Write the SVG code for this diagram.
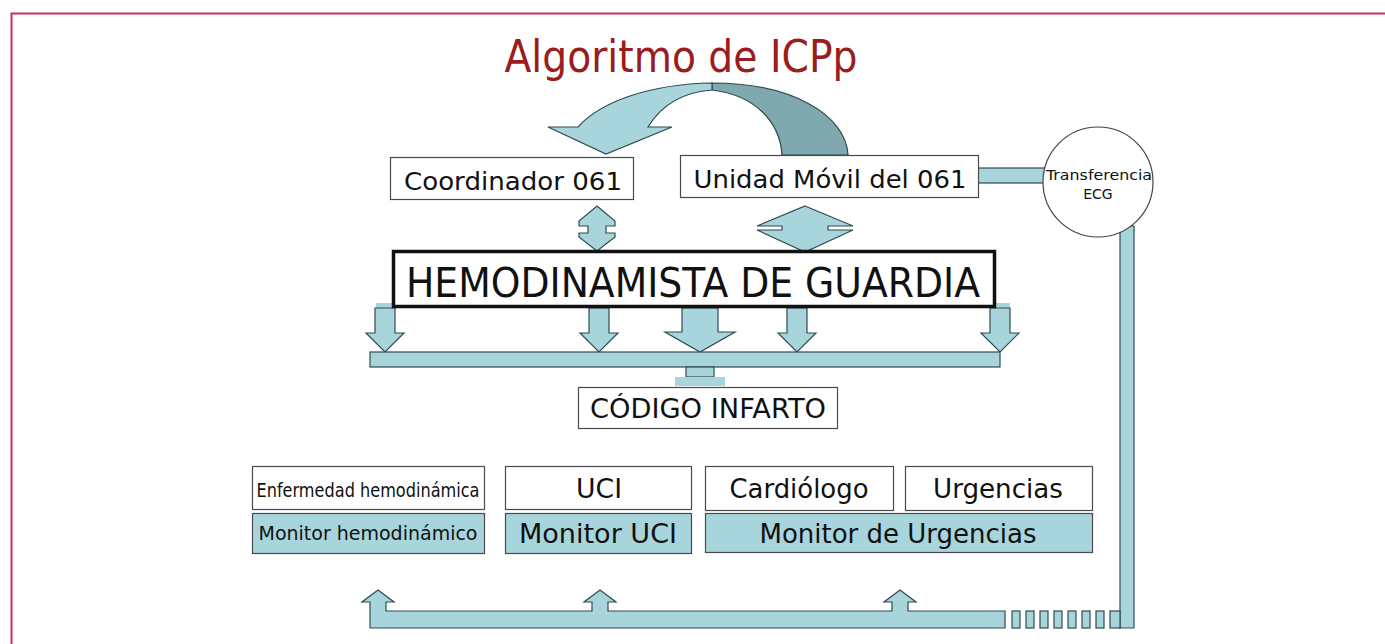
<svg xmlns="http://www.w3.org/2000/svg" width="1385" height="644" viewBox="0 0 1385 644">
<style>
.t{font-family:"DejaVu Sans","Liberation Sans",sans-serif;fill:#111}
.box{fill:#fff;stroke:#4a4a4a;stroke-width:1.2}
.tbox{fill:#a8d5db;stroke:#4a4a4a;stroke-width:1.2}
.ar{fill:#a8d5db;stroke:#2d4b50;stroke-width:1.2;stroke-linejoin:miter}
.pl{fill:#a8d5db}
</style>
<rect width="1385" height="644" fill="#fff"/>
<path d="M11.5,644 V13.5 H1385" fill="none" stroke="#c8305a" stroke-width="2"/>
<text class="t" x="681" y="72" font-size="44" text-anchor="middle" fill="#9b1c1c" style="fill:#9b1c1c" textLength="353" lengthAdjust="spacingAndGlyphs">Algoritmo de ICPp</text>
<g id="connectors">
  <path class="ar" style="fill:#7fa9ae" d="M712,83 C792,83 846,115 848,155 L782,155 C780,122 755,95 712,90 Z"/>
  <path class="ar" d="M548,127 L606,154 L672,127 L648,127 C662,104 685,92 712,90 L712,83 C650,84 600,102 578,127 Z"/>
  <path class="ar" d="M597,206 L615,221 L615,226 L606,226 L606,233 L615,233 L615,237 L597,251 L579,237 L579,233 L588,233 L588,226 L579,226 L579,221 Z"/>
  <path class="ar" d="M805,206 L853,226 L828,226 L828,230 L853,230 L805,252 L757,230 L782,230 L782,226 L757,226 Z"/>
  <rect class="ar" x="978" y="168" width="67" height="15"/>
  <path class="ar" d="M1120,226 L1134,226 L1134,628 L1120,628 Z"/>
  <rect class="pl" x="376" y="303" width="20" height="6"/>
  <rect class="pl" x="990" y="303" width="20" height="6"/>
  <path class="ar" d="M375,308 L395,308 L395,333 L404,333 L385,352 L366,333 L375,333 Z"/>
  <path class="ar" d="M589,308 L609,308 L609,333 L618,333 L599,352 L580,333 L589,333 Z"/>
  <path class="ar" d="M682,308 L718,308 L718,332 L735,332 L700,352 L665,332 L682,332 Z"/>
  <path class="ar" d="M787,308 L807,308 L807,333 L816,333 L797,352 L778,333 L787,333 Z"/>
  <path class="ar" d="M990,308 L1010,308 L1010,333 L1019,333 L1000,352 L981,333 L990,333 Z"/>
  <rect class="ar" x="370" y="352" width="630" height="15"/>
  <rect class="ar" x="686" y="367" width="28" height="10"/>
  <rect class="pl" x="675" y="377" width="50" height="9"/>
  <path class="ar" d="M370,628 L370,602 L362,602 L378,590 L394,602 L386,602 L386,611 L592,611 L592,602 L584,602 L600,590 L616,602 L608,602 L608,611 L892,611 L892,602 L884,602 L900,590 L916,602 L908,602 L908,611 L1005,611 L1005,628 Z"/>
  <rect class="ar" x="1012" y="611" width="8" height="17"/>
  <rect class="ar" x="1026" y="611" width="8" height="17"/>
  <rect class="ar" x="1040" y="611" width="8" height="17"/>
  <rect class="ar" x="1054" y="611" width="8" height="17"/>
  <rect class="ar" x="1068" y="611" width="8" height="17"/>
  <rect class="ar" x="1082" y="611" width="8" height="17"/>
  <rect class="ar" x="1096" y="611" width="8" height="17"/>
  <rect class="ar" x="1110" y="611" width="10" height="17"/>
</g>
<g id="coordinador">
  <rect class="box" x="390.5" y="157.5" width="243" height="42"/>
  <text class="t" x="513" y="190" font-size="25" text-anchor="middle" textLength="218" lengthAdjust="spacingAndGlyphs">Coordinador 061</text>
</g>
<g id="unidad">
  <rect class="box" x="680.5" y="155.5" width="298" height="42"/>
  <text class="t" x="830" y="188" font-size="25" text-anchor="middle" textLength="273" lengthAdjust="spacingAndGlyphs">Unidad Móvil del 061</text>
</g>
<g id="transferencia">
  <circle cx="1098" cy="182" r="55" fill="#fff" stroke="#444" stroke-width="1.2"/>
  <text class="t" x="1099" y="180" font-size="14" text-anchor="middle" textLength="106" lengthAdjust="spacingAndGlyphs">Transferencia</text>
  <text class="t" x="1098" y="199" font-size="14" text-anchor="middle">ECG</text>
</g>
<g id="hemodinamista">
  <rect x="393.5" y="251.5" width="601" height="55" fill="#fff" stroke="#111" stroke-width="3.5"/>
  <text class="t" x="693" y="297" font-size="40" text-anchor="middle" textLength="574" lengthAdjust="spacingAndGlyphs">HEMODINAMISTA DE GUARDIA</text>
</g>
<g id="codigo">
  <rect class="box" x="578.5" y="387.5" width="259" height="41"/>
  <text class="t" x="708" y="418" font-size="26" text-anchor="middle" textLength="236" lengthAdjust="spacingAndGlyphs">CÓDIGO INFARTO</text>
</g>
<g id="enfermedad">
  <rect class="box" x="252.5" y="466.5" width="232" height="43"/>
  <text class="t" x="368" y="497" font-size="19" text-anchor="middle" textLength="223" lengthAdjust="spacingAndGlyphs">Enfermedad hemodinámica</text>
</g>
<g id="monitor-hemo">
  <rect class="tbox" x="252.5" y="513.5" width="232" height="40"/>
  <text class="t" x="368" y="540" font-size="20" text-anchor="middle" textLength="219" lengthAdjust="spacingAndGlyphs">Monitor hemodinámico</text>
</g>
<g id="uci">
  <rect class="box" x="505.5" y="466.5" width="186" height="43"/>
  <text class="t" x="599" y="498" font-size="26" text-anchor="middle" textLength="46" lengthAdjust="spacingAndGlyphs">UCI</text>
</g>
<g id="monitor-uci">
  <rect class="tbox" x="505.5" y="513.5" width="186" height="40"/>
  <text class="t" x="598" y="543" font-size="26" text-anchor="middle" textLength="158" lengthAdjust="spacingAndGlyphs">Monitor UCI</text>
</g>
<g id="cardiologo">
  <rect class="box" x="705.5" y="466.5" width="188" height="44"/>
  <text class="t" x="799" y="498" font-size="26" text-anchor="middle" textLength="139" lengthAdjust="spacingAndGlyphs">Cardiólogo</text>
</g>
<g id="urgencias">
  <rect class="box" x="905.5" y="466.5" width="187" height="44"/>
  <text class="t" x="998" y="498" font-size="26" text-anchor="middle" textLength="130" lengthAdjust="spacingAndGlyphs">Urgencias</text>
</g>
<g id="monitor-urgencias">
  <rect class="tbox" x="705.5" y="513.5" width="387" height="39"/>
  <text class="t" x="898" y="543" font-size="26" text-anchor="middle" textLength="277" lengthAdjust="spacingAndGlyphs">Monitor de Urgencias</text>
</g>
</svg>
